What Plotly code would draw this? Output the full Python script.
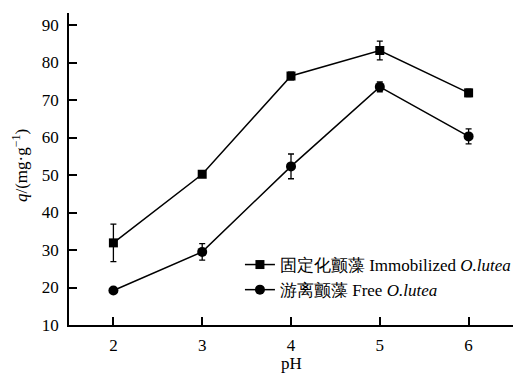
import plotly.graph_objects as go

ph = [2, 3, 4, 5, 6]
immob = [31.9, 50.2, 76.4, 83.2, 71.9]
immob_err = [5.0, 0.8, 1.0, 2.5, 1.0]
free = [19.2, 29.5, 52.3, 73.5, 60.3]
free_err = [0.6, 2.2, 3.3, 1.3, 2.0]

names = ["固定化颤藻 Immobilized <i>O.lutea</i>", "游离颤藻 Free <i>O.lutea</i>"]
xticks = [2, 3, 4, 5, 6]
yticks = [10, 20, 30, 40, 50, 60, 70, 80, 90]
x_title = "pH"
y_title = "<i>q</i>/(mg·g<sup>−1</sup>)"

font_family = "Times New Roman, Liberation Serif, serif"

fig = go.Figure()
fig.add_trace(go.Scatter(
    x=ph, y=immob, name=names[0], mode="lines+markers",
    line=dict(color="black", width=1.5),
    marker=dict(symbol="square", size=9, color="black"),
    error_y=dict(type="data", array=immob_err, color="black", thickness=1.3, width=3),
))
fig.add_trace(go.Scatter(
    x=ph, y=free, name=names[1], mode="lines+markers",
    line=dict(color="black", width=1.5),
    marker=dict(symbol="circle", size=10, color="black"),
    error_y=dict(type="data", array=free_err, color="black", thickness=1.3, width=3),
))

axis_common = dict(
    showline=True, linecolor="black", linewidth=1.5,
    ticks="inside", ticklen=8, tickwidth=1.5, tickcolor="black",
    showgrid=False, zeroline=False, mirror=False, automargin=False,
    tickfont=dict(family=font_family, size=17, color="black"),
)

fig.update_layout(
    width=532, height=374,
    margin=dict(l=69, r=19, t=13, b=49),
    paper_bgcolor="white", plot_bgcolor="white",
    font=dict(family=font_family, size=16, color="black"),
    xaxis=dict(range=[1.5, 6.5], tickvals=xticks, ticklabelstandoff=4, **axis_common),
    yaxis=dict(range=[10, 93.2], tickvals=yticks, ticklabelstandoff=5, **axis_common),
    legend=dict(x=0.385, y=0.25, xanchor="left", yanchor="top",
                bgcolor="rgba(0,0,0,0)", itemwidth=30, tracegroupgap=0,
                font=dict(family=font_family, size=17, color="black")),
    showlegend=True,
    annotations=[
        dict(text=x_title, xref="paper", yref="paper", x=0.5, y=-0.122,
             xanchor="center", yanchor="middle", showarrow=False,
             font=dict(family=font_family, size=17, color="black")),
        dict(text=y_title, xref="paper", yref="paper", x=-0.11, y=0.51,
             xanchor="center", yanchor="middle", showarrow=False, textangle=-90,
             font=dict(family=font_family, size=17, color="black")),
    ],
)

fig.write_html("out.html")
